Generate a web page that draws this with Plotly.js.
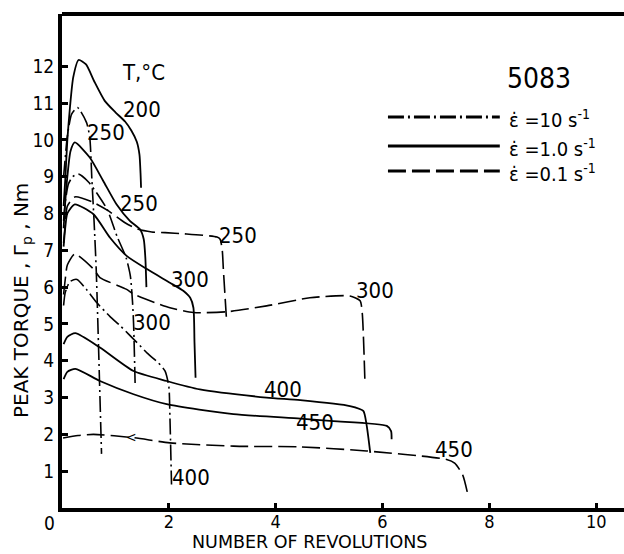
<!DOCTYPE html>
<html>
<head>
<meta charset="utf-8">
<script src="https://cdn.plot.ly/plotly-3.0.1.min.js"></script>
<style>html,body{margin:0;padding:0;background:#fff;}#chart{width:624px;height:554px;}</style>
</head>
<body>
<div id="chart"></div>
<script>
// ---- data (revolutions, peak torque Nm) ----
// strain rate 1.0 s^-1 (solid)
const s200_x = [0.03,0.06,0.10,0.15,0.21,0.31,0.45,0.60,0.80,1.00,1.18,1.30,1.40,1.45,1.47,1.48];
const s200_y = [8.2,8.9,10.0,10.9,11.7,12.17,12.05,11.6,11.06,10.75,10.5,10.25,9.95,9.6,9.1,8.7];
const s250_x = [0.03,0.06,0.10,0.16,0.24,0.52,0.77,1.02,1.27,1.46,1.53,1.56,1.58];
const s250_y = [7.6,8.3,9.0,9.7,9.93,9.52,8.89,8.25,7.8,7.57,7.3,6.8,6.0];
const s300_x = [0.03,0.06,0.10,0.24,0.59,0.90,1.21,1.59,2.02,2.27,2.40,2.46,2.48,2.50];
const s300_y = [7.1,7.6,8.0,8.25,7.98,7.34,6.85,6.49,6.12,5.9,5.71,5.44,4.5,3.54];
const s400_x = [0.03,0.10,0.25,0.71,1.34,1.96,2.58,3.83,4.46,5.39,5.64,5.70,5.77];
const s400_y = [4.45,4.65,4.75,4.36,3.72,3.45,3.22,3.0,2.93,2.77,2.64,2.27,1.5];
const s450_x = [0.03,0.10,0.25,0.71,1.34,1.96,3.21,4.46,5.08,6.08,6.16,6.17];
const s450_y = [3.5,3.7,3.78,3.45,3.09,2.82,2.55,2.43,2.36,2.23,2.09,1.87];
// strain rate 10 s^-1 (dash-dot)
const d250_x = [0.03,0.06,0.10,0.18,0.29,0.46,0.52,0.56,0.60,0.64,0.74];
const d250_y = [9.0,9.5,10.1,10.7,10.88,10.47,10.06,8.9,7.8,6.5,1.47];
const d300_x = [0.03,0.06,0.12,0.20,0.31,0.50,0.70,0.85,1.03,1.20,1.28,1.32,1.34,1.37];
const d300_y = [7.8,8.3,8.8,9.0,9.07,8.85,8.45,8.1,7.38,6.8,6.3,5.6,5.0,3.3];
const d400_x = [0.03,0.06,0.15,0.28,0.45,0.65,0.90,1.09,1.40,1.60,1.80,1.93,2.00,2.02,2.05];
const d400_y = [5.5,5.85,6.15,6.21,5.95,5.58,5.2,4.95,4.5,4.2,3.95,3.72,3.3,2.5,0.64];
// strain rate 0.1 s^-1 (dashed)
const c250_x = [0.03,0.06,0.10,0.24,0.59,0.87,1.18,1.43,1.68,1.93,2.28,2.90,2.96,3.00,3.02,3.08];
const c250_y = [7.2,7.7,8.2,8.45,8.3,8.07,7.75,7.57,7.5,7.48,7.45,7.36,7.3,7.0,6.5,5.1];
const c300_x = [0.03,0.06,0.10,0.24,0.59,0.71,1.21,1.34,2.02,2.46,3.08,3.83,4.64,5.39,5.58,5.62,5.67];
const c300_y = [5.8,6.2,6.6,6.9,6.49,6.26,5.94,5.81,5.44,5.31,5.33,5.49,5.71,5.76,5.63,5.3,3.45];
const c450_x = [0.02,0.30,0.59,1.34,2.02,3.21,4.46,5.70,7.20,7.35,7.50,7.61];
const c450_y = [1.9,1.97,2.0,1.91,1.77,1.68,1.66,1.55,1.32,1.22,0.9,0.28];

// labels
const curveLabels = ['200','250','250','250','300','300','300','400','450','400','450'];
const labelX = [1.50,0.82,1.44,3.30,2.40,5.86,1.69,4.14,4.74,2.42,7.34];
const labelY = [10.82,10.19,8.26,7.39,6.22,5.90,5.03,3.21,2.31,0.84,1.60];
const yTicks = [1,2,3,4,5,6,7,8,9,10,11,12];
const xTicks = [2,4,6,8,10];
const legendTexts = ['ε̇ =10 s<sup>-1</sup>','ε̇ =1.0 s<sup>-1</sup>','ε̇ =0.1 s<sup>-1</sup>'];

const FONT = 'DejaVu Sans Condensed, Liberation Sans Narrow, sans-serif';
const TFONT = 'DejaVu Sans, sans-serif';
const DASHDOT = '16px,4px,2px,4px';
const DASHED = '18px,6px';

function tr(x, y, dash, w) {
  return {x: x, y: y, type: 'scatter', mode: 'lines',
    line: {color: '#000', width: w, dash: dash, shape: 'spline', smoothing: 0.6},
    hoverinfo: 'skip', showlegend: false};
}
const traces = [
  tr(s200_x, s200_y, 'solid', 1.8), tr(s250_x, s250_y, 'solid', 1.8), tr(s300_x, s300_y, 'solid', 1.8),
  tr(s400_x, s400_y, 'solid', 1.8), tr(s450_x, s450_y, 'solid', 1.8),
  tr(d250_x, d250_y, DASHDOT, 1.6), tr(d300_x, d300_y, DASHDOT, 1.6), tr(d400_x, d400_y, DASHDOT, 1.6),
  tr(c250_x, c250_y, DASHED, 1.6), tr(c300_x, c300_y, DASHED, 1.6), tr(c450_x, c450_y, DASHED, 1.6)
];

function ann(o) { return Object.assign({showarrow: false, xanchor: 'center', yanchor: 'middle', borderpad: 0}, o); }
const annotations = [];
for (let i = 0; i < curveLabels.length; i++) {
  annotations.push(ann({x: labelX[i], y: labelY[i], xref: 'x', yref: 'y', text: curveLabels[i],
    font: {family: FONT, size: 22, color: '#000'}}));
}
annotations.push(ann({x: 1.52, y: 11.82, xref: 'x', yref: 'y', text: 'T,°C',
  font: {family: FONT, size: 22, color: '#000'}}));
annotations.push(ann({x: 0, y: 0, xref: 'x', yref: 'y', xshift: -13, yshift: -15, text: '0',
  font: {family: FONT, size: 19, color: '#000'}}));
annotations.push(ann({x: 1.3, y: 1.93, xref: 'x', yref: 'y', text: '<',
  font: {family: FONT, size: 14, color: '#000'}}));
annotations.push(ann({x: 0.849, y: 0.870, xref: 'paper', yref: 'paper', text: '5083',
  font: {family: FONT, size: 28, color: '#000'}}));
annotations.push(ann({x: 0.441, y: 0, yshift: -34, xref: 'paper', yref: 'paper', text: 'NUMBER OF REVOLUTIONS',
  font: {family: TFONT, size: 17.5, color: '#000'}}));
annotations.push(ann({x: -0.0712, y: 0.421, xref: 'paper', yref: 'paper', textangle: -90,
  text: 'PEAK TORQUE , Γ<sub>p</sub> , Nm',
  font: {family: TFONT, size: 20, color: '#000'}}));
const legY = [0.7915, 0.7328, 0.6822];
const legDash = [DASHDOT, 'solid', DASHED];
const shapes = [{type: 'line', xref: 'paper', yref: 'paper', x0: 0, x1: 1, y0: 1, y1: 1,
  line: {color: '#000', width: 4}}];
for (let i = 0; i < 3; i++) {
  shapes.push({type: 'line', xref: 'paper', yref: 'paper', x0: 0.58, x1: 0.779, y0: legY[i], y1: legY[i],
    line: {color: '#000', width: 3, dash: legDash[i]}});
  annotations.push(ann({x: 0.793, y: legY[i] - 0.004, xref: 'paper', yref: 'paper', xanchor: 'left',
    text: legendTexts[i], font: {family: FONT, size: 20, color: '#000'}}));
}

const layout = {
  width: 624, height: 554,
  margin: {l: 62, r: 0, t: 14, b: 46, pad: 0},
  paper_bgcolor: '#fff', plot_bgcolor: '#fff',
  showlegend: false,
  xaxis: {range: [0, 10.52], tickvals: xTicks, ticks: 'inside', ticklen: 5, tickwidth: 3, tickcolor: '#000',
    ticklabelstandoff: -6,
    showline: true, linewidth: 4, linecolor: '#000', showgrid: false, zeroline: false,
    tickfont: {family: FONT, size: 18, color: '#000'}},
  xaxis2: {range: [0, 10.52], overlaying: 'x', anchor: 'y', tickvals: xTicks, ticks: 'outside', ticklen: 4,
    tickwidth: 3, tickcolor: '#000', showticklabels: false, showline: false, showgrid: false, zeroline: false},
  yaxis: {range: [0, 13.42], tickvals: yTicks, ticks: 'inside', ticklen: 6, tickwidth: 3, tickcolor: '#000',
    showline: true, linewidth: 4, linecolor: '#000', showgrid: false, zeroline: false,
    tickfont: {family: FONT, size: 19, color: '#000'}},
  yaxis2: {range: [0, 13.42], overlaying: 'y', anchor: 'x', side: 'left', tickvals: yTicks, ticks: 'outside', ticklen: 7,
    tickwidth: 3, tickcolor: '#000', showticklabels: false, showline: false, showgrid: false, zeroline: false},
  annotations: annotations,
  shapes: shapes
};
Plotly.newPlot('chart', traces, layout, {displayModeBar: false, staticPlot: true});
</script>
</body>
</html>
